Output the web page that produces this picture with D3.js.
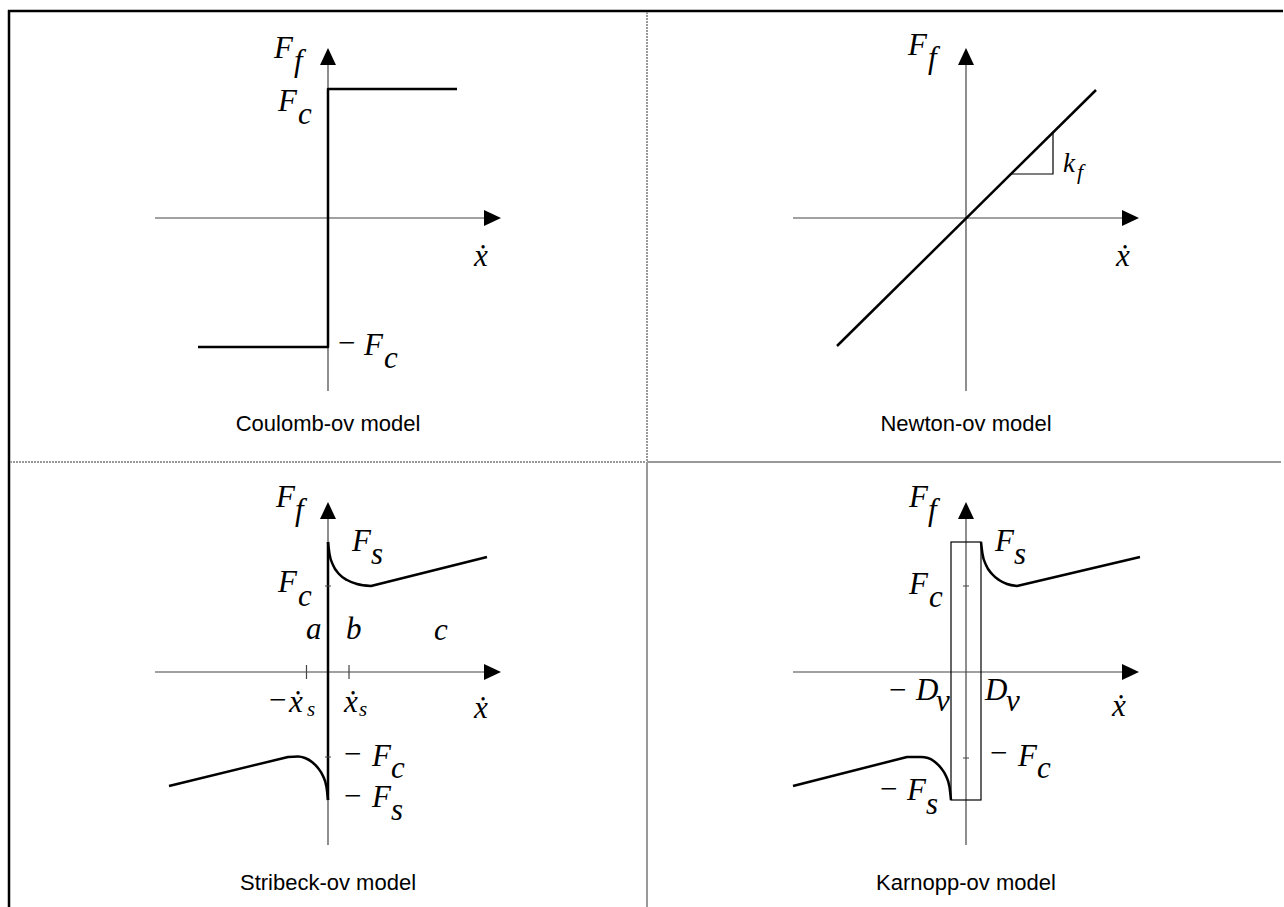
<!DOCTYPE html>
<html>
<head>
<meta charset="utf-8">
<script src="https://cdn.jsdelivr.net/npm/d3@7"></script>
<style>
  body { margin: 0; background: #fff; }
  .math { font-family: "Liberation Serif", "Times New Roman", serif; font-style: italic; fill: #000; }
  .title { font-family: "Liberation Sans", Arial, sans-serif; font-size: 22px; fill: #000; }
</style>
</head>
<body>
<script>
var svgWidth = 1284;
var svgHeight = 907;

// axis extent in model units (1 unit ~ 10px)
var axisX = [-17.3, 17.3];
var axisY = [-17.3, 17.0];

// Coulomb
var coulombPts = [[-13.0, -12.9], [0, -12.9], [0, 12.9], [12.9, 12.9]];

// Newton
var newtonPts = [[-12.9, -12.8], [13.0, 12.8]];
var newtonTri = [[4.5, 4.4], [8.7, 4.4], [8.7, 8.6]];

// Stribeck
var stribeckStick = [[0, 13.0], [0, -12.8]];
var stribeckUpper = [[0, 13.0], [0.15, 11.8], [0.5, 10.7], [1.1, 9.8], [1.9, 9.2], [2.9, 8.8], [4.3, 8.6]];
var stribeckUpperEnd = [15.9, 11.5];
var stribeckLower = [[0, -12.8], [-0.15, -11.5], [-0.5, -10.4], [-1.0, -9.6], [-1.6, -9.0], [-2.3, -8.6], [-3.0, -8.45], [-4.0, -8.5]];
var stribeckLowerEnd = [-15.9, -11.4];
var stribeckTicksY = [8.6, -8.5];
var stribeckTicksX = [-2.15, 2.1];

// Karnopp
var karnoppBandX = [-1.5, 1.5];
var karnoppBandY = [-12.8, 13.0];
var karnoppUpper = [[1.5, 13.0], [1.65, 11.8], [2.0, 10.7], [2.6, 9.8], [3.3, 9.2], [4.1, 8.8], [5.1, 8.6]];
var karnoppUpperEnd = [17.4, 11.5];
var karnoppLower = [[-1.5, -12.8], [-1.65, -11.5], [-2.0, -10.4], [-2.5, -9.6], [-3.1, -9.0], [-3.8, -8.6], [-4.5, -8.5], [-5.9, -8.5]];
var karnoppLowerEnd = [-17.3, -11.4];
var karnoppTicksY = [8.6, -8.6];

var titles = ["Coulomb-ov model", "Newton-ov model", "Stribeck-ov model", "Karnopp-ov model"];

var svg = d3.select("body")
  .append("svg")
  .attr("width", svgWidth)
  .attr("height", svgHeight);

// frame and cell dividers
svg.append("line").attr("x1", 9).attr("y1", 10).attr("x2", 9).attr("y2", 907)
  .attr("stroke", "#000").attr("stroke-width", 2.5);
svg.append("line").attr("x1", 8).attr("y1", 11).attr("x2", 1283).attr("y2", 11)
  .attr("stroke", "#000").attr("stroke-width", 2.5);
svg.append("line").attr("x1", 647).attr("y1", 12).attr("x2", 647).attr("y2", 462)
  .attr("stroke", "#999").attr("stroke-width", 2).attr("stroke-dasharray", "2,1");
svg.append("line").attr("x1", 10).attr("y1", 462).attr("x2", 646).attr("y2", 462)
  .attr("stroke", "#999").attr("stroke-width", 2).attr("stroke-dasharray", "2,1");
svg.append("line").attr("x1", 647).attr("y1", 462).attr("x2", 647).attr("y2", 907)
  .attr("stroke", "#999").attr("stroke-width", 2);
svg.append("line").attr("x1", 647).attr("y1", 462).attr("x2", 1281).attr("y2", 462)
  .attr("stroke", "#999").attr("stroke-width", 2);

function makePanel(cx, cy, title, titleDy) {
  var x = d3.scaleLinear().domain([-10, 10]).range([cx - 100, cx + 100]);
  var y = d3.scaleLinear().domain([-10, 10]).range([cy + 100, cy - 100]);
  var g = svg.append("g");

  // axes
  g.append("line")
    .attr("x1", x(axisX[0])).attr("y1", y(0))
    .attr("x2", x(axisX[1]) - 14).attr("y2", y(0))
    .attr("stroke", "#444").attr("stroke-width", 1.2);
  g.append("line")
    .attr("x1", x(0)).attr("y1", y(axisY[0]))
    .attr("x2", x(0)).attr("y2", y(axisY[1]) + 14)
    .attr("stroke", "#444").attr("stroke-width", 1.2);
  var tx = x(axisX[1]), ty = y(axisY[1]);
  g.append("path")
    .attr("d", `M${tx},${y(0)} L${tx - 17},${y(0) - 8} L${tx - 17},${y(0) + 8} Z`)
    .attr("fill", "#000");
  g.append("path")
    .attr("d", `M${x(0)},${ty} L${x(0) - 8},${ty + 17} L${x(0) + 8},${ty + 17} Z`)
    .attr("fill", "#000");

  g.append("text")
    .attr("class", "title")
    .attr("x", cx)
    .attr("y", cy + titleDy)
    .attr("text-anchor", "middle")
    .text(title);

  return { x: x, y: y, g: g, cx: cx, cy: cy };
}

function mathText(p, dx, dy, str, size) {
  p.g.append("text")
    .attr("class", "math")
    .attr("x", p.cx + dx)
    .attr("y", p.cy + dy)
    .attr("font-size", size || 31)
    .text(str);
}

function thick(p, pts) {
  var line = d3.line().x(d => p.x(d[0])).y(d => p.y(d[1]));
  return p.g.append("path")
    .attr("d", line(pts))
    .attr("fill", "none")
    .attr("stroke", "#000")
    .attr("stroke-width", 2.5)
    .attr("stroke-linejoin", "round");
}

function curveWithTail(p, pts, end) {
  var line = d3.line().x(d => p.x(d[0])).y(d => p.y(d[1])).curve(d3.curveMonotoneX);
  var d = line(pts) + `L${p.x(end[0])},${p.y(end[1])}`;
  p.g.append("path")
    .attr("d", d)
    .attr("fill", "none")
    .attr("stroke", "#000")
    .attr("stroke-width", 2.5)
    .attr("stroke-linejoin", "round");
}

function ticksY(p, vals) {
  p.g.selectAll(null).data(vals).enter().append("line")
    .attr("x1", p.x(0) - 3).attr("x2", p.x(0) + 3)
    .attr("y1", d => p.y(d)).attr("y2", d => p.y(d))
    .attr("stroke", "#444").attr("stroke-width", 1);
}

// ---- Coulomb
var p1 = makePanel(328, 218, titles[0], 213);
thick(p1, coulombPts);
mathText(p1, -54, -160, "F"); mathText(p1, -34, -147, "f");
mathText(p1, -50, -107, "F"); mathText(p1, -30, -94, "c");
mathText(p1, 146, 48, "\u1E8B");
mathText(p1, 8, 135, "\u2212"); mathText(p1, 36, 137, "F"); mathText(p1, 56, 150, "c");

// ---- Newton
var p2 = makePanel(966, 218, titles[1], 213);
thick(p2, newtonPts);
p2.g.append("path")
  .attr("d", d3.line().x(d => p2.x(d[0])).y(d => p2.y(d[1]))(newtonTri))
  .attr("fill", "none").attr("stroke", "#000").attr("stroke-width", 1.2);
mathText(p2, -58, -163, "F"); mathText(p2, -38, -150, "f");
mathText(p2, 97, -46, "k", 27); mathText(p2, 111, -39, "f", 22);
mathText(p2, 150, 48, "\u1E8B");

// ---- Stribeck
var p3 = makePanel(328, 672, titles[2], 218);
thick(p3, stribeckStick);
curveWithTail(p3, stribeckUpper, stribeckUpperEnd);
curveWithTail(p3, stribeckLower, stribeckLowerEnd);
ticksY(p3, stribeckTicksY);
p3.g.selectAll(null).data(stribeckTicksX).enter().append("line")
  .attr("x1", d => p3.x(d)).attr("x2", d => p3.x(d))
  .attr("y1", p3.y(0) - 7).attr("y2", p3.y(0) + 7)
  .attr("stroke", "#444").attr("stroke-width", 1.2);
mathText(p3, -52, -165, "F"); mathText(p3, -33, -152, "f");
mathText(p3, 24, -121, "F"); mathText(p3, 43, -108, "s");
mathText(p3, -50, -80, "F"); mathText(p3, -30, -66, "c");
mathText(p3, -22, -33, "a"); mathText(p3, 18, -33, "b"); mathText(p3, 106, -32, "c");
mathText(p3, -61, 38, "\u2212"); mathText(p3, -39, 40, "\u1E8B"); mathText(p3, -21, 44, "s", 21);
mathText(p3, 16, 40, "\u1E8B"); mathText(p3, 31, 44, "s", 21);
mathText(p3, 146, 46, "\u1E8B");
mathText(p3, 14, 92, "\u2212"); mathText(p3, 44, 94, "F"); mathText(p3, 63, 106, "c");
mathText(p3, 14, 134, "\u2212"); mathText(p3, 44, 135, "F"); mathText(p3, 63, 148, "s");

// ---- Karnopp
var p4 = makePanel(966, 672, titles[3], 218);
p4.g.append("rect")
  .attr("x", p4.x(karnoppBandX[0]))
  .attr("y", p4.y(karnoppBandY[1]))
  .attr("width", p4.x(karnoppBandX[1]) - p4.x(karnoppBandX[0]))
  .attr("height", p4.y(karnoppBandY[0]) - p4.y(karnoppBandY[1]))
  .attr("fill", "none").attr("stroke", "#000").attr("stroke-width", 1.2);
curveWithTail(p4, karnoppUpper, karnoppUpperEnd);
curveWithTail(p4, karnoppLower, karnoppLowerEnd);
ticksY(p4, karnoppTicksY);
mathText(p4, -57, -165, "F"); mathText(p4, -38, -152, "f");
mathText(p4, 29, -121, "F"); mathText(p4, 48, -108, "s");
mathText(p4, -57, -78, "F"); mathText(p4, -37, -65, "c");
mathText(p4, -79, 28, "\u2212"); mathText(p4, -50, 28, "D"); mathText(p4, -30, 39, "v");
mathText(p4, 19, 28, "D"); mathText(p4, 40, 39, "v");
mathText(p4, 146, 44, "\u1E8B");
mathText(p4, 22, 91, "\u2212"); mathText(p4, 52, 94, "F"); mathText(p4, 71, 106, "c");
mathText(p4, -88, 127, "\u2212"); mathText(p4, -59, 128, "F"); mathText(p4, -40, 142, "s");
</script>
</body>
</html>
